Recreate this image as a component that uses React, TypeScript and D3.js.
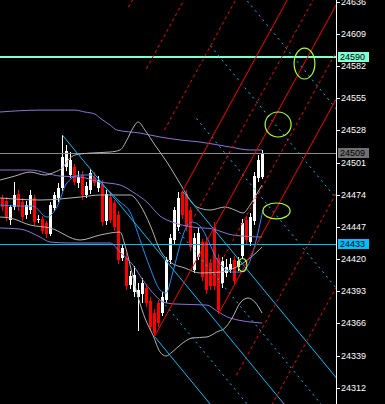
import React from 'react';
import * as d3 from 'd3';

const W = 385;
const H = 404;
const AXIS_X = 336;

// ---- candle data (bar index = position) ----
const opens = [24471,24469,24453,24464,24475,24468,24457,24461,24471,24453,24454,24450,24441,24463,24471,24480,24497,24491,24497,24484,24491,24474,24478,24489,24480,24482,24452,24472,24467,24457,24421,24421,24398,24392,24388,24391,24396,24385,24375,24383,24375,24386,24419,24436,24447,24476,24475,24461,24411,24422,24434,24434,24417,24447,24421,24400,24408,24411,24419,24413,24423,24453,24434,24452,24488,24489];
const highs = [24474,24472,24465,24485,24478,24471,24469,24478,24474,24457,24456,24452,24468,24476,24484,24524,24516,24510,24500,24494,24494,24485,24496,24493,24490,24486,24478,24476,24470,24460,24433,24425,24410,24414,24400,24404,24399,24388,24378,24386,24392,24422,24441,24464,24476,24477,24478,24464,24442,24446,24437,24438,24420,24451,24424,24422,24420,24421,24423,24422,24454,24456,24459,24493,24507,24512];
const lows = [24460,24452,24449,24461,24460,24452,24454,24458,24448,24450,24441,24438,24439,24460,24468,24477,24494,24488,24482,24480,24470,24471,24475,24481,24476,24448,24449,24450,24444,24416,24418,24394,24395,24388,24360,24383,24380,24360,24355,24363,24372,24383,24416,24433,24444,24454,24444,24427,24408,24419,24402,24391,24394,24394,24374,24396,24405,24408,24399,24410,24420,24433,24431,24449,24485,24487];
const closes = [24464,24455,24464,24474,24464,24455,24465,24474,24451,24454,24444,24441,24465,24474,24480,24506,24511,24503,24485,24489,24474,24481,24492,24484,24486,24451,24475,24453,24447,24419,24429,24397,24406,24407,24394,24400,24383,24363,24358,24366,24388,24419,24438,24461,24471,24457,24447,24430,24438,24442,24405,24394,24397,24397,24377,24418,24413,24416,24402,24418,24450,24436,24455,24490,24503,24509];

// ---- price axis ----
const yTicks = [24636,24609,24582,24555,24528,24501,24474,24447,24420,24393,24366,24339,24312];
const resistanceLevel = 24590;
const supportLevel = 24433;
const bidPrice = 24509;

// ---- indicator lines as [bar index, price] ----
const grayUpper: [number, number][] = [[-0.6,24486.4],[3.1,24489.7],[6.9,24493.1],[10.6,24490.6],[13.1,24493.1],[14.9,24496.4],[16.4,24503.2],[18.1,24507.4],[21.9,24509.0],[26.9,24509.9],[29.4,24511.6],[31.1,24520.0],[32.6,24530.0],[33.9,24535.1],[35.6,24528.4],[38.1,24515.8],[41.1,24501.5],[43.1,24490.6],[44.9,24480.5],[46.9,24469.6],[48.6,24463.7],[51.9,24461.2],[55.6,24463.7],[58.1,24461.2],[60.1,24458.7],[61.9,24465.4],[63.4,24473.8],[64.9,24482.2]];
const grayMiddle: [number, number][] = [[-0.6,24471.3],[9.4,24469.6],[19.4,24472.1],[24.4,24473.8],[31.9,24473.8],[34.4,24465.4],[36.9,24448.6],[39.4,24427.6],[41.9,24417.5],[45.6,24412.5],[49.4,24408.3],[54.4,24409.1],[59.4,24415.0],[61.9,24420.9],[64.9,24430.1]];
const grayLower: [number, number][] = [[-0.6,24455.3],[1.9,24454.5],[6.9,24448.6],[11.9,24446.1],[19.4,24436.0],[24.4,24440.2],[29.4,24442.7],[30.6,24431.8],[31.9,24415.0],[33.1,24398.2],[35.6,24370.5],[37.6,24356.2],[39.4,24341.9],[40.9,24338.6],[42.4,24341.9],[44.4,24347.8],[47.4,24353.7],[51.1,24354.6],[53.6,24358.8],[55.6,24362.1],[57.4,24370.5],[59.4,24383.1],[61.4,24387.3],[63.1,24383.9],[64.9,24374.7]];
const purpleUpper: [number, number][] = [[-0.6,24543.5],[9.4,24545.1],[18.1,24545.1],[20.6,24543.5],[23.1,24541.8],[24.4,24538.4],[26.9,24532.5],[28.6,24528.4],[34.4,24525.8],[39.4,24522.5],[44.4,24520.0],[49.4,24518.3],[56.9,24514.1],[61.9,24511.6],[64.9,24511.6]];
const purpleMiddle: [number, number][] = [[-0.6,24494.8],[6.9,24494.8],[14.4,24489.7],[19.4,24488.9],[24.4,24484.7],[29.4,24482.2],[32.6,24476.3],[36.1,24467.9],[39.4,24456.1],[42.4,24451.1],[47.6,24446.9],[52.6,24445.2],[57.6,24440.2],[64.9,24438.5]];
const purpleLower: [number, number][] = [[-0.6,24446.1],[4.4,24445.2],[9.4,24438.5],[11.9,24434.3],[16.9,24433.5],[26.9,24433.5],[29.4,24425.9],[32.6,24415.0],[35.6,24399.9],[38.1,24389.8],[40.1,24383.9],[43.1,24382.3],[51.1,24381.4],[53.6,24376.4],[56.9,24370.5],[64.9,24366.3]];
const fastMA: [number, number][] = [[-0.6,24465.4],[4.4,24464.5],[7.6,24464.5],[11.1,24455.3],[13.6,24463.7],[16.1,24483.9],[19.4,24490.6],[21.9,24490.6],[24.4,24483.9],[26.9,24476.3],[29.4,24467.9],[31.9,24459.5],[34.4,24436.0],[36.9,24412.5],[39.4,24394.0],[40.9,24391.5],[42.4,24406.6],[43.9,24425.9],[45.4,24442.7],[47.4,24451.1],[49.4,24447.7],[51.4,24436.0],[53.4,24420.9],[55.4,24412.5],[57.4,24409.1],[59.4,24409.1],[61.4,24415.0],[63.1,24431.8],[65.1,24461.2]];

// ---- pitchfork anchors [bar index, price] ----
const cyanAnchors: [number, number][] = [[15,24524],[38,24355],[45,24477]];
const cyanSolidLevels = [0, 1, -1];
const cyanDashLevels = [0.5, -0.5, 2, 3, 4];
const redAnchors: [number, number][] = [[38,24355],[45,24477],[54,24374]];
const redSolidLevels = [0, 1, -1];
const redDashLevels = [0.5, -0.5, 2, 3, -2, -3, -4];

// ---- ellipses [center index, center price, half width (bars), half height (price)] ----
const ellipses: [number, number, number, number][] = [[75.5,24584.2,2.6,13],[68.9,24533,3.25,10.5],[68.5,24460.4,3.4,6.7],[60,24415,1.1,5.5]];

const xS = d3.scaleLinear().domain([0, 65]).range([2.5, 262.5]);
const yS = d3.scaleLinear().domain([24312, 24609]).range([387.7, 34]);

function forkLine(anchors: [number, number][], k: number) {
  const [p1, p2, p3] = anchors;
  const m: [number, number] = [(p2[0] + p3[0]) / 2, (p2[1] + p3[1]) / 2];
  const slope = (m[1] - p1[1]) / (m[0] - p1[0]);
  const s: [number, number] = k === 0 ? p1 : [m[0] + k * (p3[0] - m[0]), m[1] + k * (p3[1] - m[1])];
  const endI = 110;
  const e: [number, number] = [endI, s[1] + slope * (endI - s[0])];
  return { x1: xS(s[0]), y1: yS(s[1]), x2: xS(e[0]), y2: yS(e[1]) };
}

const lineGen = d3.line<[number, number]>().x(d => xS(d[0])).y(d => yS(d[1])).curve(d3.curveMonotoneX);

export default function App() {
  const font = "'Liberation Sans', Arial, sans-serif";
  const labelBox = (v: number, bg: string) => {
    const y = yS(v);
    return (
      <g key={'b' + v}>
        <rect x={338} y={Math.round(y) - 5} width={31} height={10} fill={bg} />
        <text x={340} y={Math.round(y)} dy="0.36em" fontSize={9} fontFamily={font} fill="#000">{v}</text>
      </g>
    );
  };
  return (
    <div style={{ position: 'fixed', left: 0, top: 0, width: W, height: H, background: '#000' }}>
      <svg width={W} height={H} style={{ display: 'block' }}>
        <rect width={W} height={H} fill="#000" />
        <defs>
          <clipPath id="plot"><rect x={0} y={0} width={AXIS_X} height={H} /></clipPath>
        </defs>
        <g clipPath="url(#plot)">
          <g shapeRendering="crispEdges">
            {closes.map((c, i) => {
              const o = opens[i];
              const up = c >= o;
              const col = up ? '#fff' : '#ff0000';
              const xc = Math.floor(xS(i));
              const top = yS(Math.max(o, c));
              const bot = yS(Math.min(o, c));
              return (
                <g key={i}>
                  <line x1={xc + 0.5} x2={xc + 0.5} y1={yS(highs[i])} y2={yS(lows[i])} stroke={col} strokeWidth={1} />
                  <rect x={xc - 1} y={top} width={3} height={Math.max(1, bot - top)} fill={col} />
                </g>
              );
            })}
          </g>
          <g shapeRendering="crispEdges">
            <line x1={0} x2={AXIS_X} y1={Math.round(yS(bidPrice)) + 0.5} y2={Math.round(yS(bidPrice)) + 0.5} stroke="#8c8c8c" />
            <line x1={0} x2={AXIS_X} y1={Math.round(yS(resistanceLevel))} y2={Math.round(yS(resistanceLevel))} stroke="#7fffd4" strokeWidth={2} />
            <line x1={0} x2={AXIS_X} y1={Math.round(yS(supportLevel)) + 0.5} y2={Math.round(yS(supportLevel)) + 0.5} stroke="#00bfff" strokeWidth={1.3} />
          </g>
          <g fill="none" strokeWidth={1}>
            <path d={lineGen(purpleUpper) || ''} stroke="#9370db" />
            <path d={lineGen(purpleMiddle) || ''} stroke="#9370db" />
            <path d={lineGen(purpleLower) || ''} stroke="#9370db" />
            <path d={lineGen(grayUpper) || ''} stroke="#b4b4b4" />
            <path d={lineGen(grayMiddle) || ''} stroke="#b4b4b4" />
            <path d={lineGen(grayLower) || ''} stroke="#b4b4b4" />
            <path d={lineGen(fastMA) || ''} stroke="#1e90ff" />
          </g>
          <g strokeWidth={1}>
            {cyanSolidLevels.map(k => { const l = forkLine(cyanAnchors, k); return <line key={'cs' + k} {...l} stroke="#00bfff" />; })}
            {cyanDashLevels.map(k => { const l = forkLine(cyanAnchors, k); return <line key={'cd' + k} {...l} stroke="#00bfff" strokeDasharray="2,4" />; })}
            {redSolidLevels.map(k => { const l = forkLine(redAnchors, k); return <line key={'rs' + k} {...l} stroke="#ff0000" />; })}
            {redDashLevels.map(k => { const l = forkLine(redAnchors, k); return <line key={'rd' + k} {...l} stroke="#ff0000" strokeDasharray="3,3" />; })}
          </g>
          <g fill="none" stroke="#adff2f" strokeWidth={1.2}>
            {ellipses.map((e, i) => (
              <ellipse key={i} cx={xS(e[0])} cy={yS(e[1])} rx={xS(e[2]) - xS(0)} ry={yS(0) - yS(e[3])} />
            ))}
          </g>
        </g>
        <g shapeRendering="crispEdges">
          <line x1={AXIS_X + 0.5} x2={AXIS_X + 0.5} y1={0} y2={H} stroke="#fff" />
          {yTicks.map(v => (
            <g key={v}>
              <line x1={AXIS_X} x2={AXIS_X + 4} y1={Math.round(yS(v)) + 0.5} y2={Math.round(yS(v)) + 0.5} stroke="#fff" />
              <text x={341} y={Math.round(yS(v))} dy="0.36em" fontSize={9} fontFamily={font} fill="#fff">{v}</text>
            </g>
          ))}
          {labelBox(resistanceLevel, '#7fffd4')}
          {labelBox(bidPrice, '#707070')}
          {labelBox(supportLevel, '#00bfff')}
        </g>
      </svg>
    </div>
  );
}
